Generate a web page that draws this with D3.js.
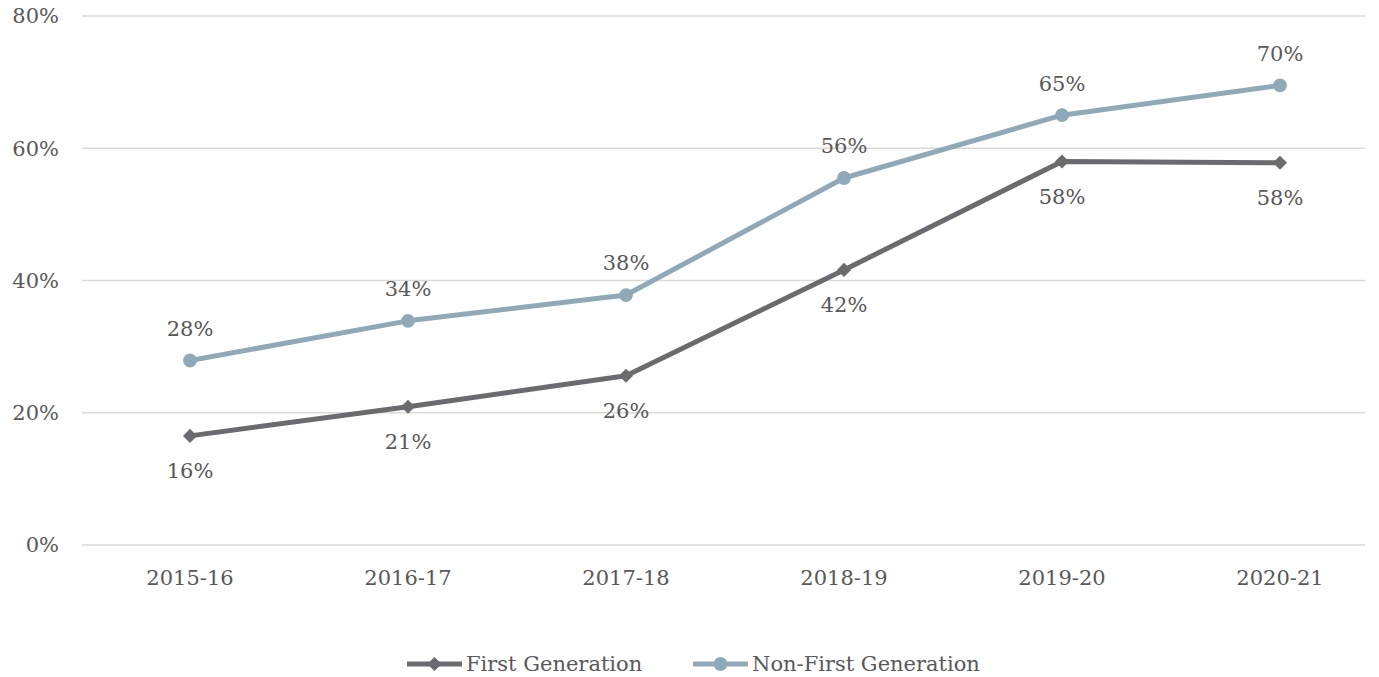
<!DOCTYPE html>
<html>
<head>
<meta charset="utf-8">
<script src="https://cdn.jsdelivr.net/npm/d3@7"></script>
<style>
  body { margin: 0; background: #fff; }
  svg text { font-family: "DejaVu Serif", serif; fill: #595959; }
</style>
</head>
<body>
<svg id="chart" width="1379" height="677"></svg>
<script>
var years = ["2015-16", "2016-17", "2017-18", "2018-19", "2019-20", "2020-21"]
var firstGen = [16.5, 20.9, 25.6, 41.6, 58.0, 57.8]
var nonFirstGen = [27.9, 33.9, 37.8, 55.5, 65.0, 69.5]
var firstLabels = ["16%", "21%", "26%", "42%", "58%", "58%"]
var nonFirstLabels = ["28%", "34%", "38%", "56%", "65%", "70%"]
var yTicks = [0, 20, 40, 60, 80]

var svg = d3.select("#chart")
var fontSize = 21

var x = d3.scaleBand().domain(years).range([81, 1389])
var y = d3.scaleLinear().domain([0, 80]).range([545, 16])
function cx(d) { return x(d) + x.bandwidth() / 2 }

// grid
svg.append("g").selectAll("line").data(yTicks).join("line")
  .attr("x1", 82).attr("x2", 1365)
  .attr("y1", function(d) { return y(d) }).attr("y2", function(d) { return y(d) })
  .attr("stroke", "#d9d9d9").attr("stroke-width", 1.5)

// y tick labels
svg.append("g").selectAll("text").data(yTicks).join("text")
  .attr("x", 59).attr("y", function(d) { return y(d) })
  .attr("dy", "0.35em").attr("text-anchor", "end")
  .style("font-size", fontSize + "px")
  .text(function(d) { return d + "%" })

// x labels
svg.append("g").selectAll("text").data(years).join("text")
  .attr("x", cx).attr("y", 578)
  .attr("dy", "0.35em").attr("text-anchor", "middle")
  .style("font-size", fontSize + "px")
  .text(function(d) { return d })

// diamond = square turned 45deg
var series = [
  {name: "Non-First Generation", values: nonFirstGen, labels: nonFirstLabels, color: "#8fa9b9", symbol: d3.symbolCircle, size: 150, rot: 0, off: -32},
  {name: "First Generation", values: firstGen, labels: firstLabels, color: "#6b6a6f", symbol: d3.symbolSquare, size: 100, rot: 45, off: 35}
]

var line = d3.line()
  .x(function(d, i) { return cx(years[i]) })
  .y(function(d) { return y(d) })

series.forEach(function(s) {
  var g = svg.append("g")
  g.append("path").datum(s.values)
    .attr("d", line).attr("fill", "none")
    .attr("stroke", s.color).attr("stroke-width", 5)
    .attr("stroke-linejoin", "round")
  g.selectAll("path.m").data(s.values).join("path")
    .attr("class", "m")
    .attr("transform", function(d, i) { return "translate(" + cx(years[i]) + "," + y(d) + ") rotate(" + s.rot + ")" })
    .attr("d", d3.symbol().type(s.symbol).size(s.size))
    .attr("fill", s.color)
  g.selectAll("text").data(s.values).join("text")
    .attr("x", function(d, i) { return cx(years[i]) })
    .attr("y", function(d) { return y(d) + s.off })
    .attr("dy", "0.35em").attr("text-anchor", "middle")
    .style("font-size", fontSize + "px")
    .text(function(d, i) { return s.labels[i] })
})

// legend
var legend = [
  {name: "First Generation", color: "#6b6a6f", symbol: d3.symbolSquare, size: 100, rot: 45, x: 407},
  {name: "Non-First Generation", color: "#8fa9b9", symbol: d3.symbolCircle, size: 150, rot: 0, x: 693}
]
var lg = svg.append("g").selectAll("g").data(legend).join("g")
  .attr("transform", function(d) { return "translate(" + d.x + ",664)" })
lg.append("line").attr("x1", 0).attr("x2", 55)
  .attr("stroke", function(d) { return d.color }).attr("stroke-width", 5)
lg.append("path").attr("transform", function(d) { return "translate(27.5,0) rotate(" + d.rot + ")" })
  .attr("d", function(d) { return d3.symbol().type(d.symbol).size(d.size)() })
  .attr("fill", function(d) { return d.color })
lg.append("text").attr("x", 59).attr("dy", "0.35em")
  .style("font-size", fontSize + "px")
  .text(function(d) { return d.name })
</script>
</body>
</html>
